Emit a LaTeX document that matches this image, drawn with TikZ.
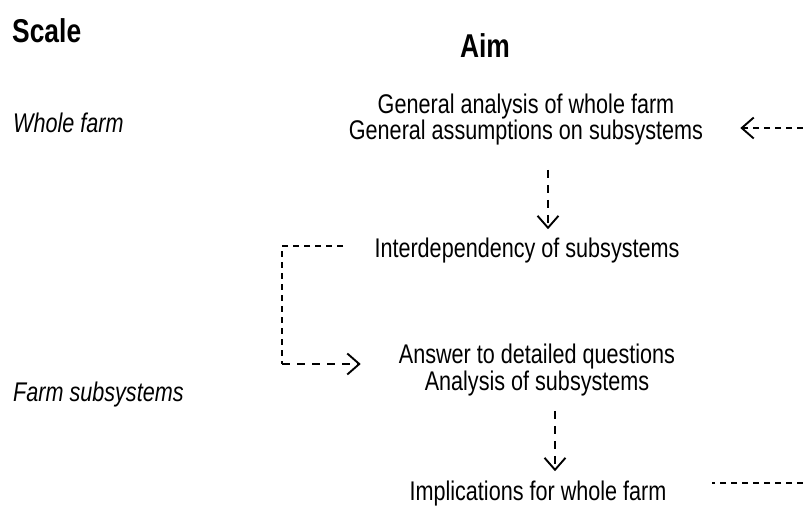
\documentclass[tikz,border=0pt]{standalone}
\usepackage{fontspec}
\setmainfont{Liberation Sans}[FakeStretch=0.8]
\usetikzlibrary{arrows.meta,calc}
\tikzset{
  txt/.style={font=\fontsize{27}{27}\selectfont, align=center, inner sep=0pt},
  lbl/.style={font=\fontsize{27}{27}\selectfont\itshape, inner sep=0pt},
  head/.style={font=\fontsize{33}{33}\selectfont\bfseries, inner sep=0pt},
  conn/.style={line width=1.9pt, dash pattern=on 6pt off 5pt, -{Straight Barb[length=12pt,width=21pt,line width=1.9pt]}},
  longdash/.style={dash pattern=on 8pt off 7pt},
  plain/.style={line width=1.9pt, dash pattern=on 6pt off 5pt}
}
\begin{document}
\begin{tikzpicture}[x=1pt,y=-1pt]
\useasboundingbox[fill=white] (0,0) rectangle (803,506);
% headings
\node[head, anchor=base west] (scale) at (12,42) {Scale};
\node[head, anchor=base] (aim) at (485,57) {Aim};
% scale labels
\node[lbl, anchor=base west] (whole) at (13,132) {Whole farm};
\node[lbl, anchor=base west] (sub) at (13,401) {Farm subsystems};
% aims
\node[txt, anchor=base] (gen1) at (526,113) {General analysis of whole farm};
\node[txt, anchor=base] (gen2) at (526,139) {General assumptions on subsystems};
\node[txt, anchor=base] (int) at (527,257) {Interdependency of subsystems};
\node[txt, anchor=base] (ans1) at (537,363) {Answer to detailed questions};
\node[txt, anchor=base] (ans2) at (537,390) {Analysis of subsystems};
\node[txt, anchor=base] (imp) at (538,500) {Implications for whole farm};
% connectors
\coordinate (rin) at (803,128);
\draw[conn] (rin) -- (gen2.east |- rin) [shorten >=37pt];
\draw[conn, longdash] ($(gen2.south)+(22,25)$) coordinate (d1s) -- ($(int.north)+(21,-8)$);
\coordinate (bstart) at (343,246);
\coordinate (bcorner) at (282,364);
\draw[plain] (bstart) -| (bcorner);
\draw[conn, longdash, shorten >=38pt] (bcorner) -- (ans1.west |- bcorner);
\draw[conn, longdash] ($(ans2.south)+(18,15)$) coordinate (d2s) -- ($(imp.north)+(17,-9)$);
\coordinate (rout) at (803,483);
\draw[plain] (rout) -- (712,483) coordinate (routend);
\end{tikzpicture}
\end{document}
